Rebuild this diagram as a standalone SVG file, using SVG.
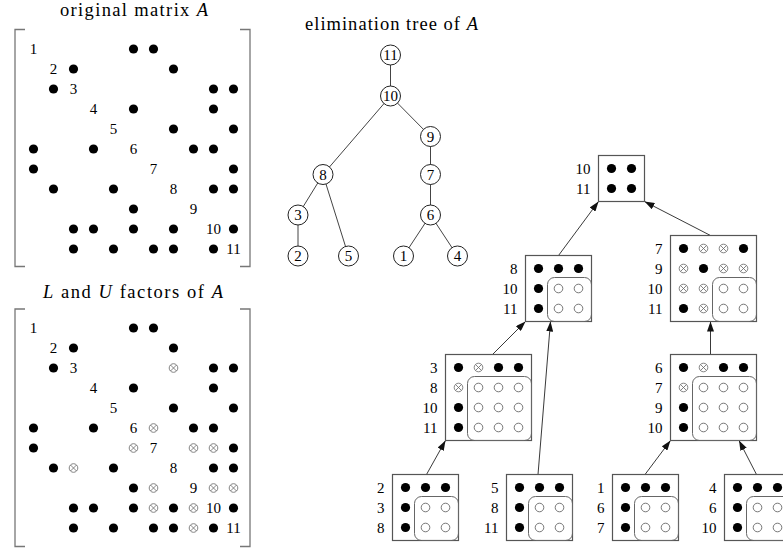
<svg xmlns="http://www.w3.org/2000/svg" width="783" height="550" viewBox="0 0 783 550">
  <style>
    text { font-family: "Liberation Serif", "Times New Roman", serif; fill: #000; }
    .title { font-size: 18.5px; }
    .it { font-style: italic; }
    .lbl { font-size: 15px; text-anchor: middle; }
    .rl { font-size: 15px; text-anchor: end; }
    .bracket { fill: none; stroke: #777; stroke-width: 1.3; }
    .edge { stroke: #444; stroke-width: 1; }
    .node circle { fill: #fff; stroke: #222; stroke-width: 1; }
    .box { fill: none; stroke: #555; stroke-width: 1.2; }
    .upd { fill: none; stroke: #666; stroke-width: 1; }
    .arrow { stroke: #222; stroke-width: 0.9; fill: none; marker-end: url(#head); }
  </style>
  <defs>
    <circle id="dot" r="4.6" fill="#000"/>
    <circle id="zero" r="4.3" fill="#fff" stroke="#555" stroke-width="0.8"/>
    <g id="fill">
      <circle r="4.3" fill="#fff" stroke="#666" stroke-width="0.8"/>
      <path d="M-3,-3 L3,3 M-3,3 L3,-3" stroke="#666" stroke-width="0.8"/>
    </g>
    <marker id="head" markerUnits="userSpaceOnUse" markerWidth="10" markerHeight="7" refX="10" refY="3.5" orient="auto">
      <path d="M0,0 L10,3.5 L0,7 z" fill="#111"/>
    </marker>
  </defs>

  <!-- titles -->
  <text class="title" x="60" y="16" textLength="148" lengthAdjust="spacing">original matrix <tspan class="it">A</tspan></text>
  <text class="title" x="305" y="29.5" textLength="173" lengthAdjust="spacing">elimination tree of <tspan class="it">A</tspan></text>
  <text class="title" x="43" y="297.5" textLength="180" lengthAdjust="spacing"><tspan class="it">L</tspan> and <tspan class="it">U</tspan> factors of <tspan class="it">A</tspan></text>

  <!-- original matrix A -->
  <g id="matrix-A" transform="translate(13.5,29)">
    <path class="bracket" d="M11.5,0.5 H1.5 V237.5 H11.5"/>
    <path class="bracket" d="M226.5,0.5 H236.5 V237.5 H226.5"/>
    <text class="lbl" x="20" y="25">1</text>
    <text class="lbl" x="40" y="45">2</text>
    <text class="lbl" x="60" y="65">3</text>
    <text class="lbl" x="80" y="85">4</text>
    <text class="lbl" x="100" y="105">5</text>
    <text class="lbl" x="120" y="125">6</text>
    <text class="lbl" x="140" y="145">7</text>
    <text class="lbl" x="160" y="165">8</text>
    <text class="lbl" x="180" y="185">9</text>
    <text class="lbl" x="200" y="205">10</text>
    <text class="lbl" x="220" y="225">11</text>
    <use href="#dot" x="120" y="20"/><use href="#dot" x="140" y="20"/>
    <use href="#dot" x="60" y="40"/><use href="#dot" x="160" y="40"/>
    <use href="#dot" x="40" y="60"/><use href="#dot" x="200" y="60"/><use href="#dot" x="220" y="60"/>
    <use href="#dot" x="120" y="80"/><use href="#dot" x="200" y="80"/>
    <use href="#dot" x="160" y="100"/><use href="#dot" x="220" y="100"/>
    <use href="#dot" x="20" y="120"/><use href="#dot" x="80" y="120"/><use href="#dot" x="180" y="120"/><use href="#dot" x="200" y="120"/>
    <use href="#dot" x="20" y="140"/><use href="#dot" x="220" y="140"/>
    <use href="#dot" x="40" y="160"/><use href="#dot" x="100" y="160"/><use href="#dot" x="200" y="160"/><use href="#dot" x="220" y="160"/>
    <use href="#dot" x="120" y="180"/>
    <use href="#dot" x="60" y="200"/><use href="#dot" x="80" y="200"/><use href="#dot" x="120" y="200"/><use href="#dot" x="160" y="200"/><use href="#dot" x="220" y="200"/>
    <use href="#dot" x="60" y="220"/><use href="#dot" x="100" y="220"/><use href="#dot" x="140" y="220"/><use href="#dot" x="160" y="220"/><use href="#dot" x="200" y="220"/>
  </g>

  <!-- L and U factors: same pattern plus fill-in -->
  <g id="matrix-LU" transform="translate(13.5,308)">
    <path class="bracket" d="M11.5,1 H1.5 V238.5 H11.5"/>
    <path class="bracket" d="M226.5,1 H236.5 V238.5 H226.5"/>
    <text class="lbl" x="20" y="25">1</text>
    <text class="lbl" x="40" y="45">2</text>
    <text class="lbl" x="60" y="65">3</text>
    <text class="lbl" x="80" y="85">4</text>
    <text class="lbl" x="100" y="105">5</text>
    <text class="lbl" x="120" y="125">6</text>
    <text class="lbl" x="140" y="145">7</text>
    <text class="lbl" x="160" y="165">8</text>
    <text class="lbl" x="180" y="185">9</text>
    <text class="lbl" x="200" y="205">10</text>
    <text class="lbl" x="220" y="225">11</text>
    <use href="#dot" x="120" y="20"/><use href="#dot" x="140" y="20"/>
    <use href="#dot" x="60" y="40"/><use href="#dot" x="160" y="40"/>
    <use href="#dot" x="40" y="60"/><use href="#dot" x="200" y="60"/><use href="#dot" x="220" y="60"/>
    <use href="#dot" x="120" y="80"/><use href="#dot" x="200" y="80"/>
    <use href="#dot" x="160" y="100"/><use href="#dot" x="220" y="100"/>
    <use href="#dot" x="20" y="120"/><use href="#dot" x="80" y="120"/><use href="#dot" x="180" y="120"/><use href="#dot" x="200" y="120"/>
    <use href="#dot" x="20" y="140"/><use href="#dot" x="220" y="140"/>
    <use href="#dot" x="40" y="160"/><use href="#dot" x="100" y="160"/><use href="#dot" x="200" y="160"/><use href="#dot" x="220" y="160"/>
    <use href="#dot" x="120" y="180"/>
    <use href="#dot" x="60" y="200"/><use href="#dot" x="80" y="200"/><use href="#dot" x="120" y="200"/><use href="#dot" x="160" y="200"/><use href="#dot" x="220" y="200"/>
    <use href="#dot" x="60" y="220"/><use href="#dot" x="100" y="220"/><use href="#dot" x="140" y="220"/><use href="#dot" x="160" y="220"/><use href="#dot" x="200" y="220"/>
    <use href="#fill" x="160" y="60"/>
    <use href="#fill" x="140" y="120"/>
    <use href="#fill" x="120" y="140"/><use href="#fill" x="180" y="140"/><use href="#fill" x="200" y="140"/>
    <use href="#fill" x="60" y="160"/>
    <use href="#fill" x="140" y="180"/><use href="#fill" x="200" y="180"/><use href="#fill" x="220" y="180"/>
    <use href="#fill" x="140" y="200"/><use href="#fill" x="180" y="200"/>
    <use href="#fill" x="180" y="220"/>
  </g>

  <!-- elimination tree edges -->
  <g id="tree-edges">
    <line class="edge" x1="390.5" y1="55" x2="390.5" y2="96"/>
    <line class="edge" x1="390.5" y1="96" x2="430.5" y2="136.5"/>
    <line class="edge" x1="390.5" y1="96" x2="323" y2="174.5"/>
    <line class="edge" x1="430.5" y1="136.5" x2="430.5" y2="174.5"/>
    <line class="edge" x1="430.5" y1="174.5" x2="430.5" y2="215"/>
    <line class="edge" x1="430.5" y1="215" x2="403.5" y2="256"/>
    <line class="edge" x1="430.5" y1="215" x2="457.5" y2="256"/>
    <line class="edge" x1="323" y1="174.5" x2="298" y2="215"/>
    <line class="edge" x1="323" y1="174.5" x2="348.5" y2="256"/>
    <line class="edge" x1="298" y1="215" x2="298" y2="256"/>
  </g>
  <!-- elimination tree nodes -->
  <g id="t11" class="node"><circle cx="390.5" cy="55" r="10"/><text class="lbl" x="390.5" y="60">11</text></g>
  <g id="t10" class="node"><circle cx="390.5" cy="96" r="10"/><text class="lbl" x="390.5" y="101">10</text></g>
  <g id="t9" class="node"><circle cx="430.5" cy="136.5" r="10"/><text class="lbl" x="430.5" y="141.5">9</text></g>
  <g id="t7" class="node"><circle cx="430.5" cy="174.5" r="10"/><text class="lbl" x="430.5" y="179.5">7</text></g>
  <g id="t6" class="node"><circle cx="430.5" cy="215" r="10"/><text class="lbl" x="430.5" y="220">6</text></g>
  <g id="t1" class="node"><circle cx="403.5" cy="256" r="10"/><text class="lbl" x="403.5" y="261">1</text></g>
  <g id="t4" class="node"><circle cx="457.5" cy="256" r="10"/><text class="lbl" x="457.5" y="261">4</text></g>
  <g id="t8" class="node"><circle cx="323" cy="174.5" r="10"/><text class="lbl" x="323" y="179.5">8</text></g>
  <g id="t3" class="node"><circle cx="298" cy="215" r="10"/><text class="lbl" x="298" y="220">3</text></g>
  <g id="t2" class="node"><circle cx="298" cy="256" r="10"/><text class="lbl" x="298" y="261">2</text></g>
  <g id="t5" class="node"><circle cx="348.5" cy="256" r="10"/><text class="lbl" x="348.5" y="261">5</text></g>

  <!-- assembly tree connectors -->
  <g id="assembly-edges">
    <line class="arrow" x1="558.5" y1="255.5" x2="598.5" y2="201.5"/>
    <line class="arrow" x1="710.5" y1="235.5" x2="644.5" y2="201.5"/>
    <line class="arrow" x1="492.5" y1="354.5" x2="525.5" y2="321.5"/>
    <line class="arrow" x1="538" y1="474.5" x2="550.5" y2="321.5"/>
    <line class="arrow" x1="710.5" y1="354.5" x2="710.5" y2="321.5"/>
    <line class="arrow" x1="426.5" y1="474.5" x2="445.5" y2="440.5"/>
    <line class="arrow" x1="645" y1="474.5" x2="670.5" y2="440.5"/>
    <line class="arrow" x1="756.5" y1="474.5" x2="739" y2="440.5"/>
  </g>

  <!-- frontal matrices -->
  <g id="front-10" transform="translate(598.5,155.5)">
    <rect class="box" width="46" height="46"/>
    <text class="rl" x="-8" y="18">10</text><text class="rl" x="-8" y="38">11</text>
    <use href="#dot" x="13" y="13"/><use href="#dot" x="33" y="13"/>
    <use href="#dot" x="13" y="33"/><use href="#dot" x="33" y="33"/>
  </g>

  <g id="front-8" transform="translate(525.5,255.5)">
    <rect class="box" width="66" height="66"/>
    <rect class="upd" x="22" y="22" width="44" height="44" rx="7"/>
    <text class="rl" x="-8" y="18">8</text><text class="rl" x="-8" y="38">10</text><text class="rl" x="-8" y="58">11</text>
    <use href="#dot" x="13" y="13"/><use href="#dot" x="33" y="13"/><use href="#dot" x="53" y="13"/>
    <use href="#dot" x="13" y="33"/><use href="#zero" x="33" y="33"/><use href="#zero" x="53" y="33"/>
    <use href="#dot" x="13" y="53"/><use href="#zero" x="33" y="53"/><use href="#zero" x="53" y="53"/>
  </g>

  <g id="front-7" transform="translate(670.5,235.5)">
    <rect class="box" width="86" height="86"/>
    <rect class="upd" x="42" y="42" width="44" height="44" rx="7"/>
    <text class="rl" x="-8" y="18">7</text><text class="rl" x="-8" y="38">9</text><text class="rl" x="-8" y="58">10</text><text class="rl" x="-8" y="78">11</text>
    <use href="#dot" x="13" y="13"/><use href="#fill" x="33" y="13"/><use href="#fill" x="53" y="13"/><use href="#dot" x="73" y="13"/>
    <use href="#fill" x="13" y="33"/><use href="#dot" x="33" y="33"/><use href="#fill" x="53" y="33"/><use href="#fill" x="73" y="33"/>
    <use href="#fill" x="13" y="53"/><use href="#fill" x="33" y="53"/><use href="#zero" x="53" y="53"/><use href="#zero" x="73" y="53"/>
    <use href="#dot" x="13" y="73"/><use href="#fill" x="33" y="73"/><use href="#zero" x="53" y="73"/><use href="#zero" x="73" y="73"/>
  </g>

  <g id="front-3" transform="translate(445.5,354.5)">
    <rect class="box" width="86" height="86"/>
    <rect class="upd" x="22" y="22" width="64" height="64" rx="7"/>
    <text class="rl" x="-8" y="18">3</text><text class="rl" x="-8" y="38">8</text><text class="rl" x="-8" y="58">10</text><text class="rl" x="-8" y="78">11</text>
    <use href="#dot" x="13" y="13"/><use href="#fill" x="33" y="13"/><use href="#dot" x="53" y="13"/><use href="#dot" x="73" y="13"/>
    <use href="#fill" x="13" y="33"/><use href="#zero" x="33" y="33"/><use href="#zero" x="53" y="33"/><use href="#zero" x="73" y="33"/>
    <use href="#dot" x="13" y="53"/><use href="#zero" x="33" y="53"/><use href="#zero" x="53" y="53"/><use href="#zero" x="73" y="53"/>
    <use href="#dot" x="13" y="73"/><use href="#zero" x="33" y="73"/><use href="#zero" x="53" y="73"/><use href="#zero" x="73" y="73"/>
  </g>

  <g id="front-6" transform="translate(670.5,354.5)">
    <rect class="box" width="86" height="86"/>
    <rect class="upd" x="22" y="22" width="64" height="64" rx="7"/>
    <text class="rl" x="-8" y="18">6</text><text class="rl" x="-8" y="38">7</text><text class="rl" x="-8" y="58">9</text><text class="rl" x="-8" y="78">10</text>
    <use href="#dot" x="13" y="13"/><use href="#fill" x="33" y="13"/><use href="#dot" x="53" y="13"/><use href="#dot" x="73" y="13"/>
    <use href="#fill" x="13" y="33"/><use href="#zero" x="33" y="33"/><use href="#zero" x="53" y="33"/><use href="#zero" x="73" y="33"/>
    <use href="#dot" x="13" y="53"/><use href="#zero" x="33" y="53"/><use href="#zero" x="53" y="53"/><use href="#zero" x="73" y="53"/>
    <use href="#dot" x="13" y="73"/><use href="#zero" x="33" y="73"/><use href="#zero" x="53" y="73"/><use href="#zero" x="73" y="73"/>
  </g>

  <g id="front-2" transform="translate(392.5,474.5)">
    <rect class="box" width="66" height="66"/>
    <rect class="upd" x="22" y="22" width="44" height="44" rx="7"/>
    <text class="rl" x="-8" y="18">2</text><text class="rl" x="-8" y="38">3</text><text class="rl" x="-8" y="58">8</text>
    <use href="#dot" x="13" y="13"/><use href="#dot" x="33" y="13"/><use href="#dot" x="53" y="13"/>
    <use href="#dot" x="13" y="33"/><use href="#zero" x="33" y="33"/><use href="#zero" x="53" y="33"/>
    <use href="#dot" x="13" y="53"/><use href="#zero" x="33" y="53"/><use href="#zero" x="53" y="53"/>
  </g>

  <g id="front-5" transform="translate(506.5,474.5)">
    <rect class="box" width="66" height="66"/>
    <rect class="upd" x="22" y="22" width="44" height="44" rx="7"/>
    <text class="rl" x="-8" y="18">5</text><text class="rl" x="-8" y="38">8</text><text class="rl" x="-8" y="58">11</text>
    <use href="#dot" x="13" y="13"/><use href="#dot" x="33" y="13"/><use href="#dot" x="53" y="13"/>
    <use href="#dot" x="13" y="33"/><use href="#zero" x="33" y="33"/><use href="#zero" x="53" y="33"/>
    <use href="#dot" x="13" y="53"/><use href="#zero" x="33" y="53"/><use href="#zero" x="53" y="53"/>
  </g>

  <g id="front-1" transform="translate(612.5,474.5)">
    <rect class="box" width="66" height="66"/>
    <rect class="upd" x="22" y="22" width="44" height="44" rx="7"/>
    <text class="rl" x="-8" y="18">1</text><text class="rl" x="-8" y="38">6</text><text class="rl" x="-8" y="58">7</text>
    <use href="#dot" x="13" y="13"/><use href="#dot" x="33" y="13"/><use href="#dot" x="53" y="13"/>
    <use href="#dot" x="13" y="33"/><use href="#zero" x="33" y="33"/><use href="#zero" x="53" y="33"/>
    <use href="#dot" x="13" y="53"/><use href="#zero" x="33" y="53"/><use href="#zero" x="53" y="53"/>
  </g>

  <g id="front-4" transform="translate(724.5,474.5)">
    <rect class="box" width="66" height="66"/>
    <rect class="upd" x="22" y="22" width="44" height="44" rx="7"/>
    <text class="rl" x="-8" y="18">4</text><text class="rl" x="-8" y="38">6</text><text class="rl" x="-8" y="58">10</text>
    <use href="#dot" x="13" y="13"/><use href="#dot" x="33" y="13"/><use href="#dot" x="53" y="13"/>
    <use href="#dot" x="13" y="33"/><use href="#zero" x="33" y="33"/><use href="#zero" x="53" y="33"/>
    <use href="#dot" x="13" y="53"/><use href="#zero" x="33" y="53"/><use href="#zero" x="53" y="53"/>
  </g>
</svg>
